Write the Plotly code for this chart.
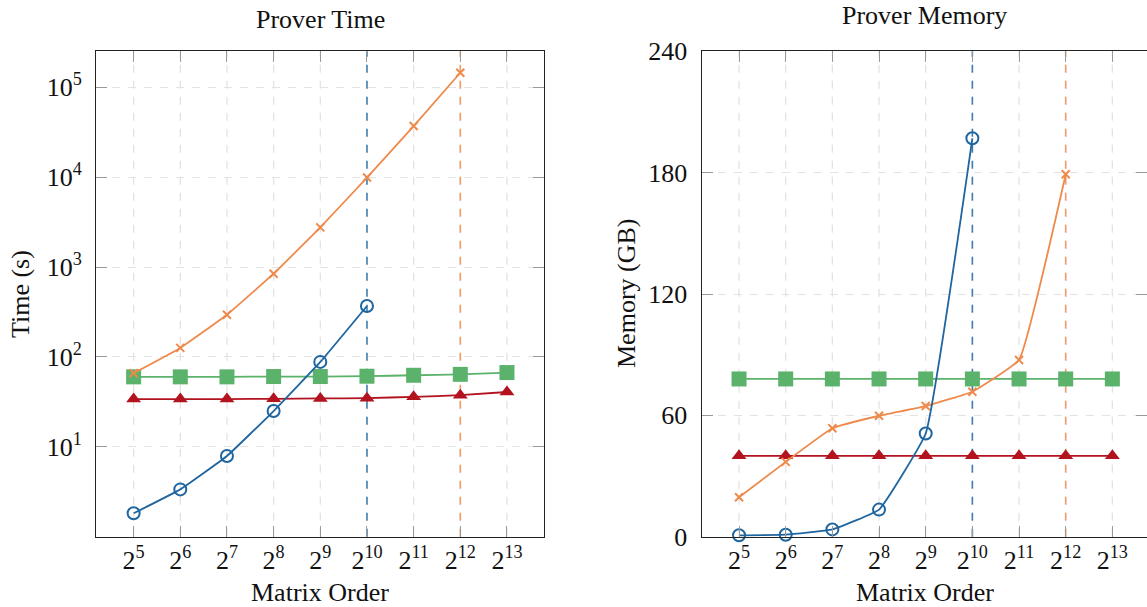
import plotly.graph_objects as go

# ---------------- data ----------------
exponents = [5, 6, 7, 8, 9, 10, 11, 12, 13]
x_ticktext = [f"2<sup>{e}</sup>" for e in exponents]

# Prover time (s)
time_blue = [1.82, 3.36, 7.9, 25, 88, 369]
time_orange = [66, 126, 295, 843, 2760, 9900, 37000, 145000]
time_green = [60, 60, 60, 60.5, 60.5, 61, 62.5, 64, 67]
time_red = [34, 34, 34, 34.2, 34.5, 34.8, 36, 37.5, 40.7]

# Prover memory (GB)
mem_blue = [0.7, 1.0, 3.6, 13.4, 51, 197]
mem_orange = [19.5, 37, 53.6, 59.8, 64.6, 71.7, 87.4, 179.2]
mem_green = [78, 78, 78, 78, 78, 78, 78, 78, 78]
mem_red = [40, 40, 40, 40, 40, 40, 40, 40, 40]

limit_blue = 10
limit_orange = 12

y_time_ticks = [10, 100, 1000, 10000, 100000]
y_time_text = ["10<sup>1</sup>", "10<sup>2</sup>", "10<sup>3</sup>", "10<sup>4</sup>", "10<sup>5</sup>"]
y_mem_ticks = [0, 60, 120, 180, 240]

# ---------------- style ----------------
C_BLUE = "#1f65a0"
C_ORANGE = "#ee8a4b"
C_GREEN = "#5bb26b"
C_RED = "#b3121f"
C_GRID = "#e3e3e3"
FONT = "Liberation Serif"
W, H = 1147, 607

fig = go.Figure()


def add_series(xs, ys, color, symbol, size, xa, ya, mline=None, mfill=None):
    fig.add_trace(go.Scatter(
        x=xs, y=ys, mode="lines+markers", xaxis=xa, yaxis=ya,
        line=dict(color=color, width=1.8, shape="spline", smoothing=0.3),
        marker=dict(symbol=symbol, size=size, color=mfill if mfill else color,
                    line=dict(color=color, width=mline if mline else 0)),
        showlegend=False, cliponaxis=False, hoverinfo="skip"))


for xa, ya, blue, orange, green, red in [
    ("x", "y", time_blue, time_orange, time_green, time_red),
    ("x2", "y2", mem_blue, mem_orange, mem_green, mem_red),
]:
    add_series(exponents[:len(green)], green, C_GREEN, "square", 15, xa, ya)
    add_series(exponents[:len(red)], red, C_RED, "triangle-up", 13, xa, ya)
    add_series(exponents[:len(orange)], orange, C_ORANGE, "x-thin", 8, xa, ya, mline=2)
    add_series(exponents[:len(blue)], blue, C_BLUE, "circle-open", 12, xa, ya, mline=2)

# vertical dashed grid (as shapes, so the limit lines can sit on top of it)
limits = {limit_blue: C_BLUE, limit_orange: C_ORANGE}
for xa, ya in [("x", "y"), ("x2", "y2")]:
    for xv in exponents:
        if xv in limits:
            continue
        fig.add_shape(type="line", xref=xa, yref=f"{ya} domain", x0=xv, x1=xv, y0=0, y1=1,
                      line=dict(color=C_GRID, width=1.3, dash="8px,8px"), layer="below")
    for xv, col in limits.items():
        fig.add_shape(type="line", xref=xa, yref=f"{ya} domain", x0=xv, x1=xv, y0=0, y1=1,
                      line=dict(color=col, width=1.6, dash="8px,8px"), opacity=0.85, layer="below")

x1d = [96.3 / W, 544.3 / W]
x2d = [701.7 / W, 1.0]
yd = [1 - 536.7 / H, 1 - 51.3 / H]
px_per_unit = (544.3 - 96.3) / 9.6
x2_hi = 4.2 + (W - 701.7) / px_per_unit

common_axis = dict(
    showline=True, linecolor="#222", linewidth=1.3, mirror="allticks",
    ticks="inside", ticklen=11, tickcolor="#999", tickwidth=1.3,
    gridcolor=C_GRID, griddash="8px,8px", gridwidth=1.3,
    zeroline=False, automargin=False, tickfont=dict(family=FONT, size=26, color="#111"),
)

fig.update_layout(
    width=W, height=H, autosize=False,
    margin=dict(l=0, r=0, t=0, b=0, pad=0, autoexpand=False),
    paper_bgcolor="white", plot_bgcolor="white",
    font=dict(family=FONT, color="#111"),
    showlegend=False,
    xaxis=dict(domain=x1d, range=[4.2, 13.8], tickvals=exponents, ticktext=x_ticktext,
               anchor="y", ticklabelstandoff=0, showgrid=False, **common_axis),
    yaxis=dict(domain=yd, type="log", range=[0, 5.4], tickvals=y_time_ticks, ticktext=y_time_text,
               anchor="x", ticklabelstandoff=8, showgrid=True, **common_axis),
    xaxis2=dict(domain=x2d, range=[4.2, x2_hi], tickvals=exponents, ticktext=x_ticktext,
                anchor="y2", ticklabelstandoff=0, showgrid=False, **common_axis),
    yaxis2=dict(domain=yd, range=[0, 240], tickvals=y_mem_ticks,
                anchor="x2", ticklabelstandoff=8, showgrid=True, **common_axis),
)

ann = dict(xref="paper", yref="paper", showarrow=False, font=dict(family=FONT, size=26, color="#111"))
fig.add_annotation(text="Prover Time", x=320.3 / W, y=1 - 20 / H, xanchor="center", yanchor="middle", **ann)
fig.add_annotation(text="Prover Memory", x=925 / W, y=1 - 15 / H, xanchor="center", yanchor="middle", **ann)
fig.add_annotation(text="Matrix Order", x=320.3 / W, y=1 - 592 / H, xanchor="center", yanchor="middle", **ann)
fig.add_annotation(text="Matrix Order", x=925 / W, y=1 - 592 / H, xanchor="center", yanchor="middle", **ann)
fig.add_annotation(text="Time (s)", x=21 / W, y=1 - 294 / H, xanchor="center", yanchor="middle", textangle=-90, **ann)
fig.add_annotation(text="Memory (GB)", x=627 / W, y=1 - 294 / H, xanchor="center", yanchor="middle", textangle=-90, **ann)

fig.write_html(
    "out.html",
    config={"displayModeBar": False, "responsive": False},
    post_script="document.body.style.margin='0';document.body.style.overflow='hidden';",
)
